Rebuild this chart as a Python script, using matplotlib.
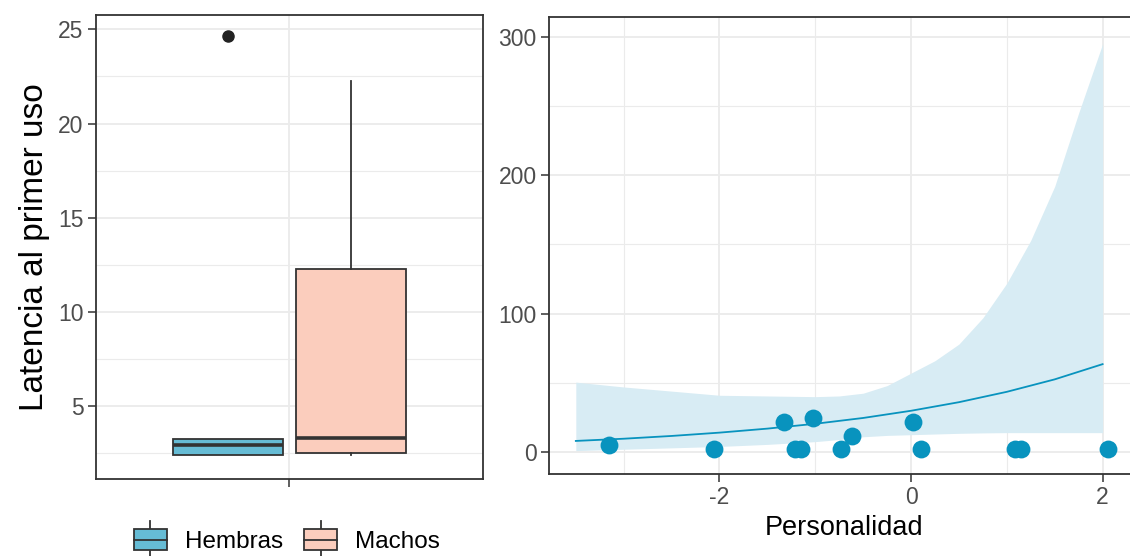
import matplotlib
matplotlib.use('Agg')
import matplotlib.pyplot as plt
import matplotlib.ticker as ticker
from matplotlib.patches import Rectangle, Patch
from matplotlib.lines import Line2D
from matplotlib.legend_handler import HandlerBase

plt.rcParams['font.family'] = ['Liberation Sans', 'DejaVu Sans']
plt.rcParams['axes.unicode_minus'] = False

# --- datos del boxplot (latencia por sexo) ---
grupos = ['Hembras', 'Machos']
colores_caja = ['#66BCD5', '#FBCDBD']
q1 = [2.40, 2.50]
mediana = [2.93, 3.33]
q3 = [3.25, 12.30]
bigote_inf = [2.40, 2.41]
bigote_sup = [3.25, 22.28]
atipicos = [[24.62], []]

# --- datos de personalidad vs latencia ---
pers_x = [-3.15, -2.06, -1.33, -1.21, -1.15, -1.02, -0.73, -0.62, 0.02, 0.10, 1.09, 1.15, 2.06]
pers_y = [5.0, 2.0, 21.5, 2.0, 2.0, 24.5, 2.0, 11.5, 21.7, 2.0, 2.0, 2.0, 2.0]

ajuste_x = [-3.5, -3.0, -2.5, -2.0, -1.5, -1.0, -0.5, 0.0, 0.5, 1.0, 1.5, 2.0]
ajuste_y = [8.0, 9.6, 11.6, 14.0, 16.9, 20.4, 24.6, 29.8, 36.0, 43.5, 52.5, 63.5]

ic_x = [-3.5, -3.0, -2.5, -2.0, -1.5, -1.0, -0.75, -0.5, -0.25, 0.0, 0.25, 0.5, 0.75,
        1.0, 1.25, 1.5, 1.75, 2.0]
ic_inf = [1.0, 2.0, 3.0, 4.0, 5.5, 7.5, 9.0, 11.0, 12.0, 12.5, 13.0, 13.5, 13.8,
          14.0, 14.0, 14.0, 14.0, 14.0]
ic_sup = [50.5, 47.0, 44.0, 41.0, 40.5, 40.0, 40.5, 42.5, 48.0, 57.0, 66.0, 78.0, 97.0,
          122.0, 153.0, 192.0, 245.0, 295.0]

AZUL = '#0893BE'
BORDE = '#333333'
GRIS_TXT = '#4D4D4D'
GRID = '#EBEBEB'

fig = plt.figure(figsize=(11.3, 5.56), dpi=100)
W, H = 1130, 556


def caja_px(x0, x1, ytop, ybot):
    return [x0 / W, 1 - ybot / H, (x1 - x0) / W, (ybot - ytop) / H]


def estilo(ax):
    for s in ax.spines.values():
        s.set_color(BORDE)
        s.set_linewidth(1.3)
    ax.tick_params(which='major', length=5.5, width=1.1, color=BORDE,
                   labelsize=16.5, labelcolor=GRIS_TXT)
    ax.tick_params(which='minor', length=0)
    ax.grid(which='major', color=GRID, lw=1.3)
    ax.grid(which='minor', color=GRID, lw=0.8)
    ax.set_axisbelow(True)


# panel izquierdo: boxplot
ax1 = fig.add_axes(caja_px(96, 483, 15, 479))
stats = []
for i, g in enumerate(grupos):
    stats.append(dict(label=g, q1=q1[i], med=mediana[i], q3=q3[i],
                      whislo=bigote_inf[i], whishi=bigote_sup[i], fliers=atipicos[i]))
bp = ax1.bxp(stats, positions=[1 - 0.19, 1 + 0.19], widths=0.34, patch_artist=True,
             showcaps=False, manage_ticks=False,
             boxprops=dict(edgecolor=BORDE, linewidth=1.3),
             medianprops=dict(color=BORDE, linewidth=2.6),
             whiskerprops=dict(color=BORDE, linewidth=1.3),
             flierprops=dict(marker='o', markerfacecolor='#222222', markeredgecolor='#222222',
                             markersize=8))
for caja, c in zip(bp['boxes'], colores_caja):
    caja.set_facecolor(c)
ax1.set_xlim(0.4, 1.6)
ax1.set_ylim(1.14, 25.76)
ax1.set_xticks([1])
ax1.set_xticklabels([''])
ax1.yaxis.set_major_locator(ticker.MultipleLocator(5))
ax1.yaxis.set_minor_locator(ticker.MultipleLocator(2.5))
ax1.set_ylabel('Latencia al primer uso', fontsize=24, color='black', labelpad=6)
estilo(ax1)
ax1.xaxis.grid(which='minor', visible=False)


class HandlerCaja(HandlerBase):
    def create_artists(self, legend, orig_handle, xdescent, ydescent, width, height, fontsize, trans):
        x0, y0 = -xdescent, -ydescent
        cx = x0 + width / 2
        rect = Rectangle((x0, y0), width, height, facecolor=orig_handle.get_facecolor(),
                         edgecolor=BORDE, lw=1.3, transform=trans)
        med = Line2D([x0, x0 + width], [y0 + height / 2] * 2, color=BORDE, lw=1.3, transform=trans)
        arriba = Line2D([cx, cx], [y0 + height, y0 + height * 1.4], color=BORDE, lw=1.3, transform=trans)
        abajo = Line2D([cx, cx], [y0 - height * 0.4, y0], color=BORDE, lw=1.3, transform=trans)
        return [arriba, abajo, rect, med]


handles = [Patch(facecolor=c) for c in colores_caja]
fig.legend(handles, grupos, handler_map={Patch: HandlerCaja()}, loc='center',
           bbox_to_anchor=(287 / W, 1 - 541 / H), ncol=2, frameon=False, fontsize=17.5,
           handlelength=1.36, handleheight=0.95, handletextpad=0.75, columnspacing=0.86,
           borderpad=0, borderaxespad=0)

# panel derecho: personalidad
ax2 = fig.add_axes(caja_px(549, 1139, 17, 474))
ax2.fill_between(ic_x, ic_inf, ic_sup, color='#D8ECF4', lw=0, zorder=1)
ax2.plot(ajuste_x, ajuste_y, color=AZUL, lw=1.3, zorder=2)
ax2.scatter(pers_x, pers_y, s=165, color=AZUL, lw=0, zorder=3)
ax2.set_xlim(-3.78, 2.38)
ax2.set_ylim(-15.9, 314.4)
ax2.xaxis.set_major_locator(ticker.MultipleLocator(2))
ax2.xaxis.set_minor_locator(ticker.MultipleLocator(1))
ax2.yaxis.set_major_locator(ticker.MultipleLocator(100))
ax2.yaxis.set_minor_locator(ticker.MultipleLocator(50))
ax2.set_xlabel('Personalidad', fontsize=19.5, color='black', labelpad=4)
estilo(ax2)

fig.savefig('out.png', dpi=100)
